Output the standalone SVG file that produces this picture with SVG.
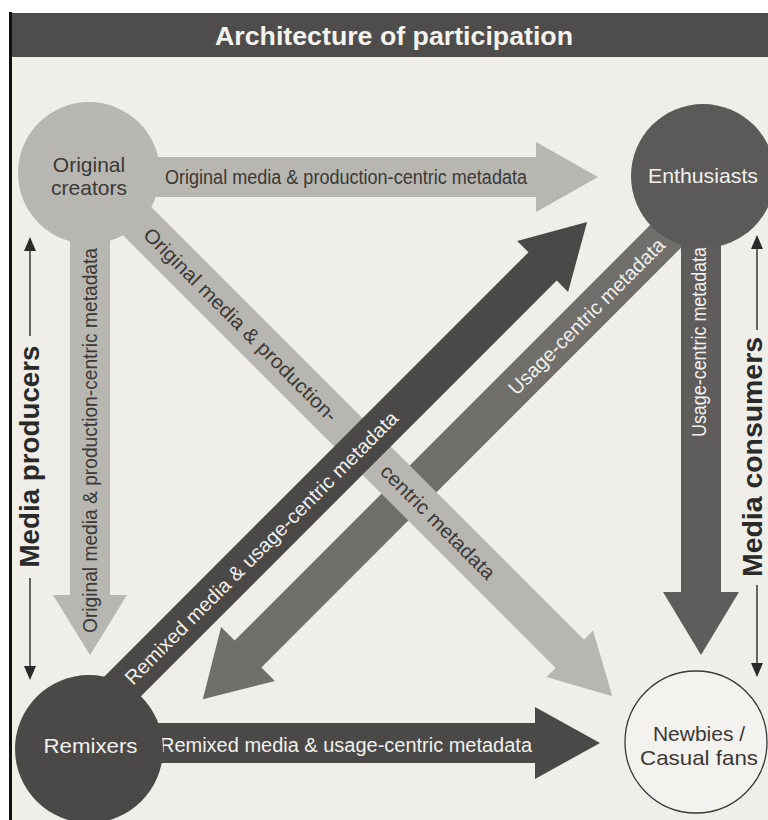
<svg xmlns="http://www.w3.org/2000/svg" width="768" height="820" viewBox="0 0 768 820">
  <defs>
    <style>
      text { font-family: "Liberation Sans", Arial, Helvetica, sans-serif; }
      .title { font-size: 26px; font-weight: bold; fill: #f4f3ef; text-anchor: middle; }
      .side { font-size: 27px; font-weight: bold; fill: #2a2a2a; text-anchor: middle; }
      .lbl { font-size: 20px; text-anchor: middle; }
      .node { font-size: 21px; text-anchor: middle; }
      .dk { fill: #3a3937; }
      .lt { fill: #f1f0ec; }
      .light { fill: #b7b6b1; }
      .mid { fill: #706f6c; }
      .midv { fill: #5e5d5b; }
      .dark { fill: #4a4948; }
      .guide { stroke: #2a2a2a; stroke-width: 1.4; fill: none; }
      .tip { fill: #2a2a2a; }
    </style>
  </defs>

  <!-- page -->
  <rect x="0" y="0" width="768" height="820" fill="#ffffff"/>
  <rect x="10" y="13" width="758" height="807" fill="#efeee8"/>
  <rect x="10" y="13" width="758" height="44" fill="#4e4d4b"/>
  <line x1="10.5" y1="12" x2="10.5" y2="820" stroke="#111" stroke-width="3"/>
  <text class="title" x="394" y="45" textLength="358" lengthAdjust="spacingAndGlyphs">Architecture of participation</text>

  <!-- side scales -->
  <g id="producers-scale">
    <line class="guide" x1="30" y1="248" x2="30" y2="336"/>
    <polygon class="tip" points="30,237 24,251 36,251"/>
    <line class="guide" x1="30" y1="578" x2="30" y2="668"/>
    <polygon class="tip" points="30,680 24,666 36,666"/>
    <text class="side" transform="translate(39,456.5) rotate(-90)" textLength="222" lengthAdjust="spacingAndGlyphs">Media producers</text>
  </g>
  <g id="consumers-scale">
    <line class="guide" x1="757" y1="246" x2="757" y2="330"/>
    <polygon class="tip" points="757,235 751,249 763,249"/>
    <line class="guide" x1="757" y1="585" x2="757" y2="665"/>
    <polygon class="tip" points="757,677 751,663 763,663"/>
    <text class="side" transform="translate(762,457) rotate(-90)" textLength="240" lengthAdjust="spacingAndGlyphs">Media consumers</text>
  </g>

  <!-- connectors -->
  <g id="connectors">
    <!-- Enthusiasts to Remixers -->
    <g id="enthusiasts-remixers">
      <polygon class="mid" points="727.4,201.4 261.4,667.4 274.9,680.9 202.8,699.2 221.1,627.1 234.6,640.6 700.6,174.6"/>
      <text class="lbl lt" transform="translate(591.4,321.4) rotate(-45)" textLength="212" lengthAdjust="spacingAndGlyphs">Usage-centric metadata</text>
    </g>
    <!-- Original creators to Newbies -->
    <g id="creators-newbies">
      <polygon class="light" points="103.1,158.9 583.9,639.7 593.1,630.5 612.3,696.3 546.5,677.1 555.7,667.9 74.9,187.1"/>
      <text class="lbl dk" transform="translate(235.8,329.6) rotate(45)" textLength="265" lengthAdjust="spacingAndGlyphs">Original media &amp; production-</text>
      <text class="lbl dk" transform="translate(433,526.9) rotate(45)" textLength="153" lengthAdjust="spacingAndGlyphs">centric metadata</text>
    </g>
    <!-- Remixers to Enthusiasts -->
    <g id="remixers-enthusiasts">
      <polygon class="dark" points="88.6,748.6 556.7,280.5 568.1,291.9 587.1,221.9 517.1,240.9 528.5,252.3 60.4,720.4"/>
      <text class="lbl lt" transform="translate(266.2,552.7) rotate(-45)" textLength="377" lengthAdjust="spacingAndGlyphs">Remixed media &amp; usage-centric metadata</text>
    </g>
    <!-- Original creators to Enthusiasts -->
    <g id="creators-enthusiasts">
      <polygon class="light" points="100,157 536,157 536,142 598,177 536,212 536,197 100,197"/>
      <text class="lbl dk" x="346" y="184" textLength="362" lengthAdjust="spacingAndGlyphs">Original media &amp; production-centric metadata</text>
    </g>
    <!-- Original creators to Remixers -->
    <g id="creators-remixers">
      <polygon class="light" points="70,200 70,595 53,595 90,655 127,595 110,595 110,200"/>
      <text class="lbl dk" transform="translate(96.5,440.5) rotate(-90)" textLength="385" lengthAdjust="spacingAndGlyphs">Original media &amp; production-centric metadata</text>
    </g>
    <!-- Enthusiasts to Newbies -->
    <g id="enthusiasts-newbies">
      <polygon class="midv" points="681,200 681,592 663,592 701,655 739,592 721,592 721,200"/>
      <text class="lbl lt" transform="translate(705.5,342) rotate(-90)" textLength="190" lengthAdjust="spacingAndGlyphs">Usage-centric metadata</text>
    </g>
    <!-- Remixers to Newbies -->
    <g id="remixers-newbies">
      <polygon class="dark" points="100,723 535,723 535,707 600,743 535,779 535,763 100,763"/>
      <text class="lbl lt" x="346" y="752" textLength="372" lengthAdjust="spacingAndGlyphs">Remixed media &amp; usage-centric metadata</text>
    </g>
  </g>

  <!-- nodes -->
  <g id="original-creators">
    <circle cx="89" cy="173" r="71" fill="#b7b6b1"/>
    <text class="node dk" x="89" y="172">Original</text>
    <text class="node dk" x="89" y="195">creators</text>
  </g>
  <g id="enthusiasts">
    <circle cx="703" cy="176" r="72" fill="#5b5a58"/>
    <text class="node lt" x="703" y="183" textLength="110" lengthAdjust="spacingAndGlyphs">Enthusiasts</text>
  </g>
  <g id="remixers">
    <circle cx="89" cy="749" r="74" fill="#4a4948"/>
    <text class="node lt" x="90.5" y="753" textLength="94" lengthAdjust="spacingAndGlyphs">Remixers</text>
  </g>
  <g id="newbies">
    <circle cx="696" cy="742" r="71" fill="#f3f2ee" stroke="#3a3937" stroke-width="1.3"/>
    <text class="node dk" x="699" y="741">Newbies /</text>
    <text class="node dk" x="699" y="765" textLength="118" lengthAdjust="spacingAndGlyphs">Casual fans</text>
  </g>
</svg>
